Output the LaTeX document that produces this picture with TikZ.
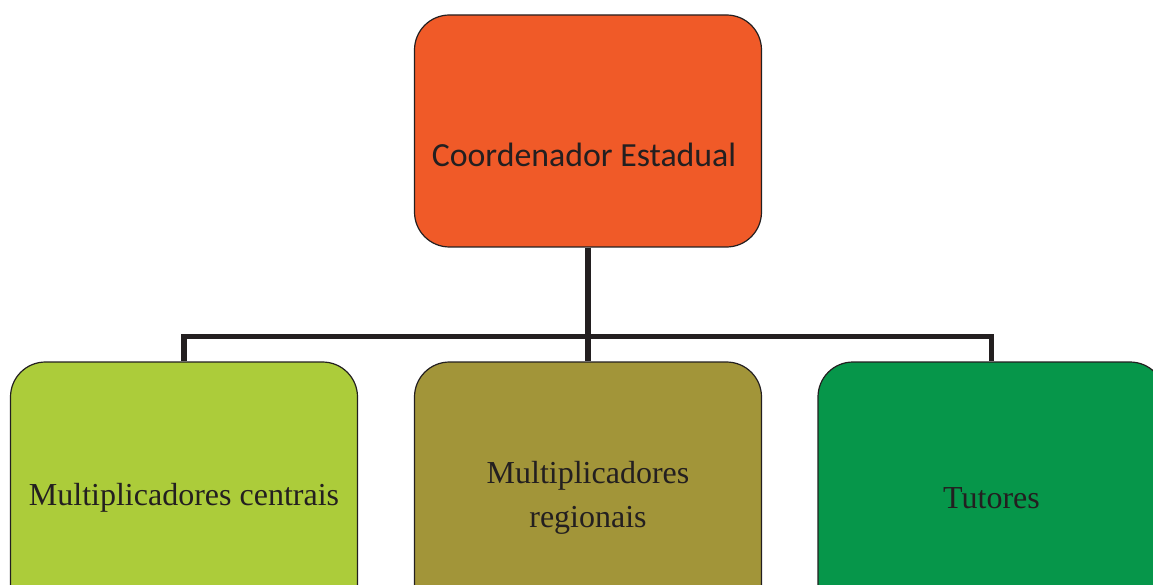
\documentclass[tikz,border=0pt]{standalone}
\usepackage{fontspec}
\setmainfont{Liberation Serif}
\newfontfamily\carlito{Carlito}
\definecolor{darkline}{RGB}{35,31,32}
\definecolor{orangebox}{RGB}{240,90,40}
\definecolor{limebox}{RGB}{172,204,58}
\definecolor{olivebox}{RGB}{162,149,57}
\definecolor{greenbox}{RGB}{6,150,74}
\tikzset{
  box/.style={draw=darkline, line width=1.2pt, rounded corners=35pt,
    minimum width=347pt, minimum height=272pt, text=darkline,
    font=\fontsize{32}{44}\selectfont, align=center},
  link/.style={draw=darkline, line width=5.5pt}
}

\begin{document}
\begin{tikzpicture}[x=1pt, y=-1pt]
\useasboundingbox (0, 0) rectangle (1153, 585);
\clip (0, 0) rectangle (1153, 585);
\node [box, fill=orangebox, minimum height=232pt,
  label={[text=darkline, font=\carlito\fontsize{33.8}{40}\selectfont, xshift=-4pt, yshift=-24pt]center:Coordenador Estadual}] (coord) at (588, 131) {};
\node [box, fill=limebox] (mcent) at (184, 498) {Multiplicadores centrais};
\node [box, fill=olivebox] (mreg) at (588, 498) {Multiplicadores\\regionais};
\node [box, fill=greenbox] (tut) at (991.5, 498) {Tutores};
% ligacoes
\draw [link] (coord.south) -- (mreg.north);
\draw [link] (mcent.north) -- ++(0, -25) -| (tut.north);
\end{tikzpicture}
\end{document}
